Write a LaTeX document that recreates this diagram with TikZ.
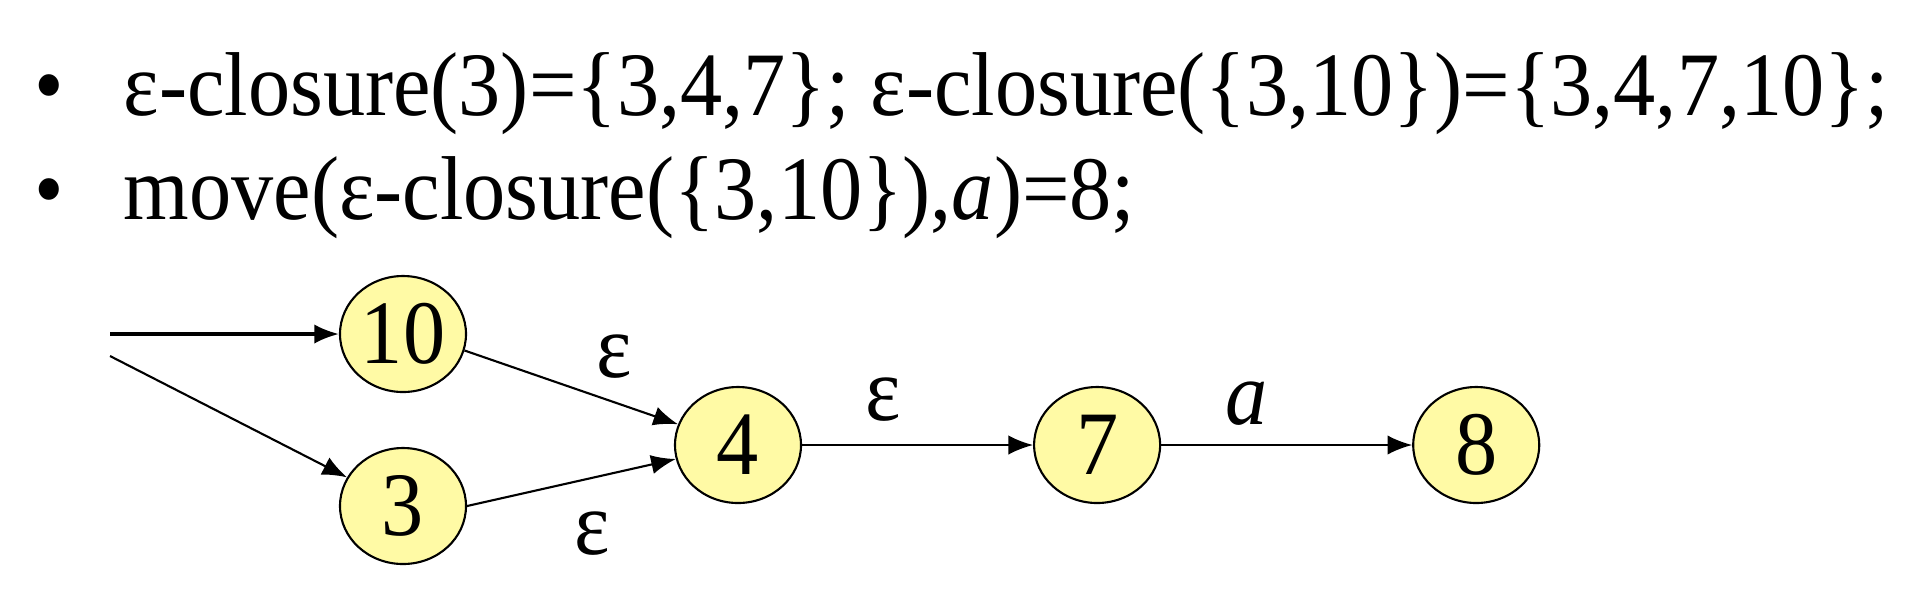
\documentclass[tikz,border=0pt]{standalone}
\usepackage{fontspec}
\setmainfont{Liberation Serif}[FakeStretch=0.93]
\usetikzlibrary{shapes.geometric, arrows.meta, positioning}
\definecolor{stateyellow}{RGB}{255,250,165}
\tikzset{
    state/.style={ellipse, draw, fill=stateyellow, line width=0.6pt, minimum width=1.26cm, minimum height=1.16cm, inner sep=0pt},
    arrow/.style={-{Latex[length=7pt, width=5.5pt]}, line width=0.6pt},
    textline/.style={anchor=base west, inner sep=0pt}
}
\begin{document}
\begin{tikzpicture}[
    font=\fontsize{25.8pt}{30pt}\selectfont,
    node distance=2.31cm and 2.31cm
]
    \useasboundingbox (0,0) rectangle (19.26,-6.14);

    % ============================================================
    % Text lines
    % ============================================================
    \node[textline, anchor=base] (bul1) at (0.49,-1.15) {\textbullet};
    \node[textline] (line1) at (1.23,-1.15) {ε-closure(3)=\{3,4,7\}; ε-closure(\{3,10\})=\{3,4,7,10\};};
    \node[textline, anchor=base] (bul2) at (0.49,-2.19) {\textbullet};
    \node[textline] (line2) at (1.23,-2.19) {move(ε-closure(\{3,10\}),\textit{a})=8;};

    % ============================================================
    % Automaton
    % ============================================================
    \node[state] (s10) at (4.03,-3.34) {10};
    \node[state] (s3) at (4.03,-5.06) {3};
    \node[state] (s4) at (7.38,-4.45) {4};
    \node[state, right=of s4] (s7) {7};
    \node[state, right=2.51cm of s7] (s8) {8};

    % start edges
    \coordinate (in1) at (1.10,-3.34);
    \coordinate (in2) at (1.10,-3.56);
    \draw[arrow, line width=0.9pt] (in1) -- (s10);
    \draw[arrow] (in2) -- (s3);

    % transitions
    \draw[arrow] (s10.-15) -- node[pos=0.7, above=3pt] {ε} (s4);
    \draw[arrow] (s3.east) -- node[pos=0.6, below=6pt] {ε} (s4);
    \draw[arrow] (s4) -- node[pos=0.35, above=3pt] {ε} (s7);
    \draw[arrow] (s7) -- node[pos=0.34, above=2pt] {\textit{a}} (s8);

\end{tikzpicture}
\end{document}
